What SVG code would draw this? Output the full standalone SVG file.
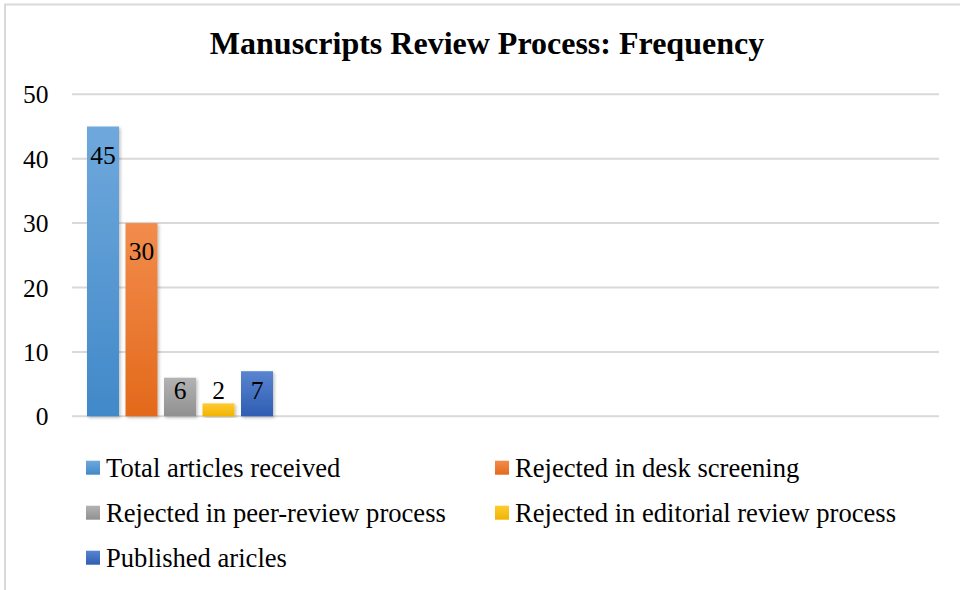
<svg xmlns="http://www.w3.org/2000/svg" width="960" height="590" viewBox="0 0 960 590">
<defs>
<linearGradient id="gBlue" x1="0" y1="0" x2="0" y2="1"><stop offset="0" stop-color="#6fa8dc"/><stop offset="1" stop-color="#4189c9"/></linearGradient>
<linearGradient id="gOrange" x1="0" y1="0" x2="0" y2="1"><stop offset="0" stop-color="#f28c4c"/><stop offset="1" stop-color="#e3691c"/></linearGradient>
<linearGradient id="gGray" x1="0" y1="0" x2="0" y2="1"><stop offset="0" stop-color="#b3b3b3"/><stop offset="1" stop-color="#909090"/></linearGradient>
<linearGradient id="gYellow" x1="0" y1="0" x2="0" y2="1"><stop offset="0" stop-color="#ffcb32"/><stop offset="1" stop-color="#f0b400"/></linearGradient>
<linearGradient id="gDark" x1="0" y1="0" x2="0" y2="1"><stop offset="0" stop-color="#5a84cf"/><stop offset="1" stop-color="#2e5db3"/></linearGradient>
<filter id="sh" x="-20%" y="-5%" width="150%" height="115%"><feDropShadow dx="1.5" dy="1.5" stdDeviation="1.5" flood-color="#000" flood-opacity="0.25"/></filter>
</defs>
<style>
text{font-family:"Liberation Serif","Times New Roman",serif;fill:#000}
.title{font-size:32px;font-weight:bold}
.ax{font-size:25.5px;text-anchor:end}
.lbl{font-size:25.5px;text-anchor:middle}
.leg{font-size:26.6px}
.grid{stroke:#d9d9d9;stroke-width:2}
.frame{stroke:#d9d9d9;stroke-width:2;fill:none}
</style>
<rect x="0" y="0" width="960" height="590" fill="#fff"/>
<path class="frame" d="M5 590 V4.5 H960"/>
<text class="title" x="487" y="53.8" text-anchor="middle">Manuscripts Review Process: Frequency</text>
<g id="axis">
<line class="grid" x1="72" y1="94.3" x2="939" y2="94.3"/>
<line class="grid" x1="72" y1="158.7" x2="939" y2="158.7"/>
<line class="grid" x1="72" y1="223.1" x2="939" y2="223.1"/>
<line class="grid" x1="72" y1="287.5" x2="939" y2="287.5"/>
<line class="grid" x1="72" y1="351.9" x2="939" y2="351.9"/>
<line class="grid" x1="72" y1="416.3" x2="939" y2="416.3"/>
<text class="ax" x="48.5" y="103.3">50</text>
<text class="ax" x="48.5" y="167.7">40</text>
<text class="ax" x="48.5" y="232.1">30</text>
<text class="ax" x="48.5" y="296.5">20</text>
<text class="ax" x="48.5" y="360.9">10</text>
<text class="ax" x="48.5" y="425.3">0</text>
</g>
<g id="bar-total"><rect x="87" y="126.5" width="32" height="289.8" fill="url(#gBlue)" filter="url(#sh)"/><text class="lbl" x="103" y="164">45</text></g>
<g id="bar-desk"><rect x="125.5" y="223.1" width="32" height="193.2" fill="url(#gOrange)" filter="url(#sh)"/><text class="lbl" x="141.5" y="260">30</text></g>
<g id="bar-peer"><rect x="164" y="377.7" width="32" height="38.6" fill="url(#gGray)" filter="url(#sh)"/><text class="lbl" x="180" y="399">6</text></g>
<g id="bar-editorial"><rect x="202.5" y="403.4" width="32" height="12.9" fill="url(#gYellow)" filter="url(#sh)"/><text class="lbl" x="218.5" y="399">2</text></g>
<g id="bar-published"><rect x="241" y="371.2" width="32" height="45.1" fill="url(#gDark)" filter="url(#sh)"/><text class="lbl" x="257" y="399">7</text></g>
<g id="legend">
<g id="leg-total"><rect x="86" y="460.7" width="14" height="14" fill="url(#gBlue)"/><text class="leg" x="106" y="476.7">Total articles received</text></g>
<g id="leg-desk"><rect x="495" y="460.7" width="14" height="14" fill="url(#gOrange)"/><text class="leg" x="515" y="476.7">Rejected in desk screening</text></g>
<g id="leg-peer"><rect x="86" y="505.7" width="14" height="14" fill="url(#gGray)"/><text class="leg" x="106" y="521.7">Rejected in peer-review process</text></g>
<g id="leg-editorial"><rect x="495" y="505.7" width="14" height="14" fill="url(#gYellow)"/><text class="leg" x="515" y="521.7">Rejected in editorial review process</text></g>
<g id="leg-published"><rect x="86" y="550.7" width="14" height="14" fill="url(#gDark)"/><text class="leg" x="106" y="566.7">Published aricles</text></g>
</g>
</svg>
